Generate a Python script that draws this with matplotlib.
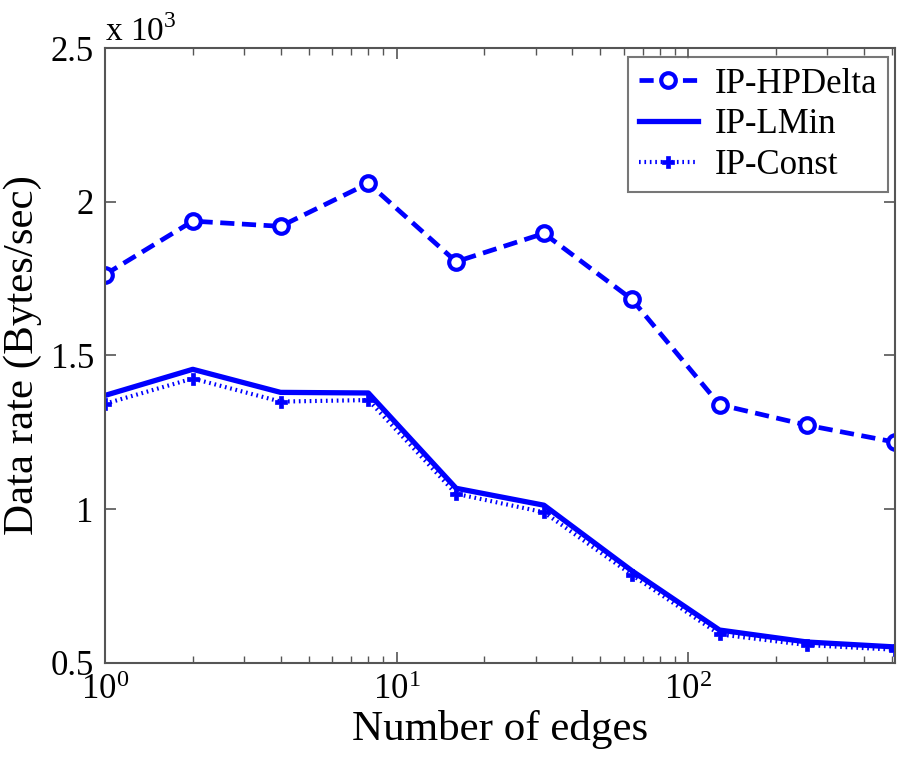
import matplotlib
matplotlib.use("Agg")
import matplotlib.pyplot as plt
from matplotlib.ticker import LogLocator, NullFormatter, FixedLocator, FixedFormatter

plt.rcParams['font.family'] = ['Liberation Serif', 'DejaVu Serif']
plt.rcParams['mathtext.fontset'] = 'custom'
plt.rcParams['mathtext.rm'] = 'Liberation Serif'

# Data (data rate in units of 10^3 Bytes/sec)
edges = [1, 2, 4, 8, 16, 32, 64, 128, 256, 512]
hpdelta = [1.763, 1.937, 1.920, 2.060, 1.805, 1.897, 1.683, 1.340, 1.273, 1.218]
lmin = [1.370, 1.455, 1.380, 1.378, 1.068, 1.013, 0.800, 0.607, 0.568, 0.552]
const = [1.343, 1.425, 1.350, 1.355, 1.050, 0.990, 0.787, 0.593, 0.558, 0.543]
series_labels = ['IP-HPDelta', 'IP-LMin', 'IP-Const']
yticks = [0.5, 1.0, 1.5, 2.0, 2.5]
yticklabels = ['0.5', '1', '1.5', '2', '2.5']

blue = '#0000ff'
fig = plt.figure(figsize=(9.01, 7.62), dpi=100)
ax = fig.add_axes([0.1165, 0.130, 0.877, 0.807])

ax.plot(edges, hpdelta, color=blue, lw=3.4, linestyle=(0, (3.0, 1.6)),
        marker='o', markersize=10.5, markerfacecolor='white', markeredgecolor=blue,
        markeredgewidth=3, label=series_labels[0])
ax.plot(edges, lmin, color=blue, lw=3.8, linestyle='-', label=series_labels[1])
ax.plot(edges, const, color=blue, lw=3.0, linestyle=(0, (0.4, 0.9)),
        marker='P', markersize=9, markerfacecolor=blue, markeredgecolor=blue,
        markeredgewidth=0.5, label=series_labels[2])

ax.set_xscale('log')
ax.set_xlim(1, 512)
ax.set_ylim(0.5, 2.5)
ax.yaxis.set_major_locator(FixedLocator(yticks))
ax.yaxis.set_major_formatter(FixedFormatter(yticklabels))
ax.xaxis.set_major_locator(LogLocator(base=10, numticks=10))
ax.xaxis.set_minor_locator(LogLocator(base=10, subs=range(2, 10), numticks=20))
ax.xaxis.set_minor_formatter(NullFormatter())

ax.tick_params(which='both', direction='in', top=True, right=True,
               color='#555555', labelsize=25, pad=8)
ax.tick_params(which='major', length=8, width=1.2)
ax.tick_params(which='minor', length=5, width=1.0)
for sp in ax.spines.values():
    sp.set_color('#555555')
    sp.set_linewidth(1.5)

ax.set_xlabel('Number of edges', fontsize=31, labelpad=2)
ax.set_ylabel('Data rate (Bytes/sec)', fontsize=31, labelpad=6)
ax.text(0.0, 1.0, r'x 10$^{3}$', transform=ax.transAxes, fontsize=24,
        ha='left', va='bottom')

leg = ax.legend(loc='upper right', fontsize=25, frameon=True, fancybox=False,
                edgecolor='#555555', handlelength=1.7, handletextpad=0.5,
                borderpad=0.3, labelspacing=0.22, borderaxespad=0.0,
                bbox_to_anchor=(0.991, 0.985))
leg.get_frame().set_linewidth(1.5)

fig.savefig('out.png', dpi=100, facecolor='white')
